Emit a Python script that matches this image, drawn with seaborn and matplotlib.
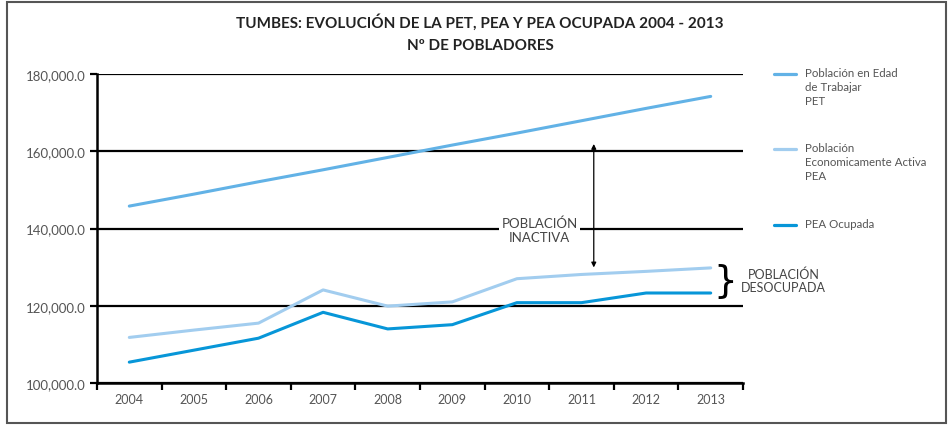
import numpy as np
import pandas as pd
import matplotlib
matplotlib.use("Agg")
import matplotlib.pyplot as plt
import seaborn as sns
from matplotlib.lines import Line2D
from matplotlib.patches import Rectangle

years = ["2004", "2005", "2006", "2007", "2008", "2009", "2010", "2011", "2012", "2013"]
pet = [145800, 148900, 152100, 155200, 158400, 161600, 164700, 167900, 171100, 174200]
pea = [111800, 113700, 115500, 124100, 119900, 121000, 127000, 128100, 128900, 129800]
pea_ocupada = [105400, 108500, 111600, 118300, 114000, 115100, 120800, 120800, 123300, 123300]

series_names = ["Población en Edad\nde Trabajar\nPET",
                "Población\nEconomicamente Activa\nPEA",
                "PEA Ocupada"]
colors = ["#62b2e6", "#a2cdef", "#0796d8"]
y_ticks = [100000, 120000, 140000, 160000, 180000]

df = pd.DataFrame({
    "year": years * 3,
    "value": pet + pea + pea_ocupada,
    "serie": [series_names[0]] * 10 + [series_names[1]] * 10 + [series_names[2]] * 10,
})

sns.set_theme(style="white")
plt.rcParams["font.family"] = ["Lato", "DejaVu Sans"]

fig = plt.figure(figsize=(9.53, 4.27), dpi=100)
W, H = 953, 427
ax = fig.add_axes([97 / W, 1 - 384 / H, (743 - 97) / W, (384 - 75) / H])

sns.lineplot(data=df, x="year", y="value", hue="serie", palette=colors,
             linewidth=2.2, ax=ax, legend=False, sort=False)

ax.set_xlim(-0.5, 9.5)
ax.set_ylim(100000, 180000)
ax.set_yticks(y_ticks)
ax.set_yticklabels([f"{v:,.1f}" for v in y_ticks])
ax.set_xticks(np.arange(-0.5, 10, 1.0))
ax.set_xticklabels([])
ax.set_xticks(np.arange(0, 10), minor=True)
ax.set_xticklabels(years, minor=True)
ax.tick_params(axis="x", which="major", length=5, width=1.6, color="black", direction="out", bottom=True)
ax.tick_params(axis="x", which="minor", length=0, pad=7, labelsize=9, labelcolor="#555555")
ax.tick_params(axis="y", which="major", length=5, width=1.6, color="black", direction="out", left=True,
               labelsize=9.5, labelcolor="#555555", pad=3)
ax.set_xlabel("")
ax.set_ylabel("")
ax.grid(axis="y", color="black", linewidth=1.6)
ax.grid(axis="x", visible=False)
for s in ["top", "right"]:
    ax.spines[s].set_visible(False)
for s in ["left", "bottom"]:
    ax.spines[s].set_color("black")
    ax.spines[s].set_linewidth(1.8)
ax.set_axisbelow(True)

# Annotations
ax.annotate("", xy=(7.19, 162600), xytext=(7.19, 129200),
            arrowprops=dict(arrowstyle="<|-|>", color="black", lw=0.9, mutation_scale=7))
ax.text(6.35, 139600, "POBLACIÓN\nINACTIVA", ha="center", va="center", fontsize=9.5,
        color="#444444", linespacing=1.2,
        bbox=dict(facecolor="white", edgecolor="none", pad=2))
ax.text(9.22, 126300, "}", ha="center", va="center", fontsize=27, color="black",
        clip_on=False, family="DejaVu Sans")
ax.text(10.13, 126600, "POBLACIÓN\nDESOCUPADA", ha="center", va="center", fontsize=9,
        color="#444444", linespacing=1.1, clip_on=False)

# Title
fig.text(480 / W, 1 - 22 / H, "TUMBES: EVOLUCIÓN DE LA PET, PEA Y PEA OCUPADA 2004 - 2013",
         ha="center", va="center", fontsize=11, fontweight="bold", color="#222222")
fig.text(480 / W, 1 - 46 / H, "Nº DE POBLADORES",
         ha="center", va="center", fontsize=11, fontweight="bold", color="#222222")

# Legend (manual)
leg_y = [75, 150, 226]
for yy, name, c in zip(leg_y, series_names, colors):
    fig.add_artist(Line2D([774 / W, 796 / W], [1 - yy / H, 1 - yy / H], color=c, lw=2.3,
                          transform=fig.transFigure))
    fig.text(805 / W, 1 - (yy - 7) / H, name, ha="left", va="top", fontsize=8.3,
             color="#555555", linespacing=1.35)

# Outer frame
fig.add_artist(Rectangle((7 / W, 3 / H), (946 - 7) / W, (424 - 3) / H, transform=fig.transFigure,
                         fill=False, edgecolor="#555555", lw=1.5))

fig.savefig("out.png", dpi=100)
